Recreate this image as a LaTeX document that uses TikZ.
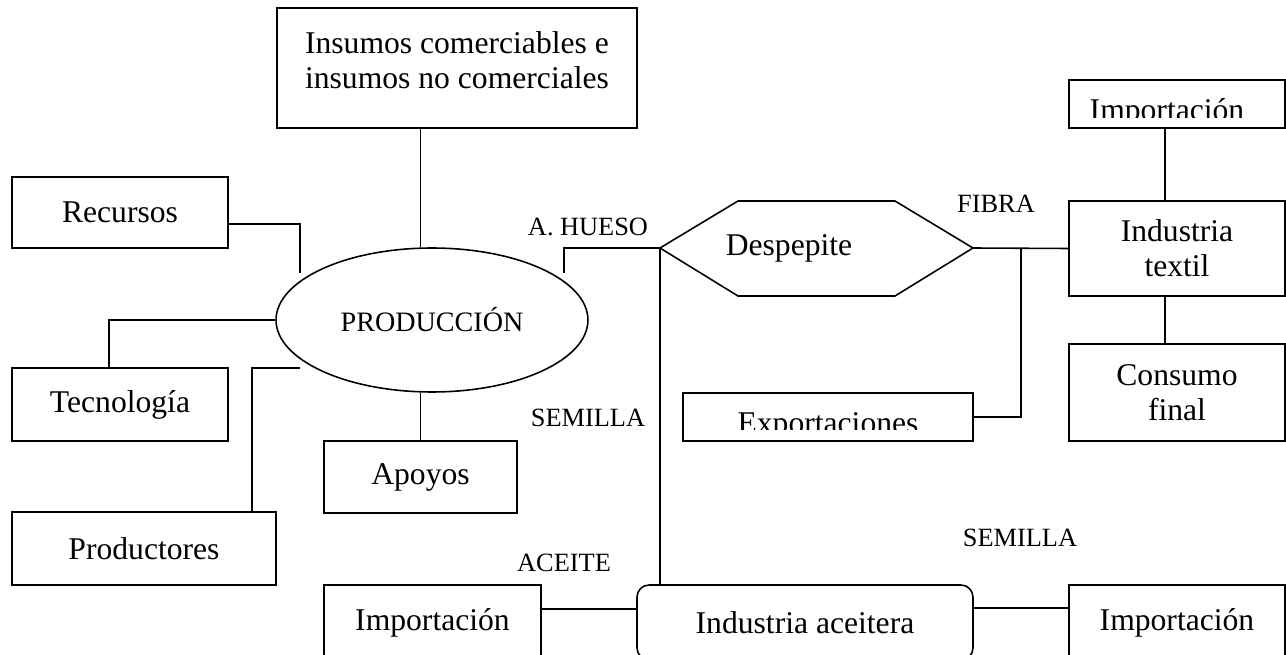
\documentclass[tikz,border=0pt]{standalone}
\usepackage{fontspec}
\setmainfont{Liberation Serif}
\usepackage{tikz}
\usetikzlibrary{shapes.geometric}

\newcommand{\cajafont}{\fontsize{18}{20}\selectfont}
\newcommand{\etiqfont}{\fontsize{15}{17}\selectfont}
\tikzset{
    caja/.style={draw, rectangle, line width=0.9pt, inner sep=0pt, font=\cajafont, align=center},
    etiq/.style={font=\etiqfont, inner sep=0pt},
    linea/.style={line width=0.9pt}
}

\begin{document}
\begin{tikzpicture}[x=0.02cm, y=-0.02cm]
    \clip (0,0) rectangle (1286,655);

    % 左侧: 生产
    \node[draw, ellipse, line width=0.9pt, inner sep=0pt, minimum width=6.24cm, minimum height=2.88cm, font=\fontsize{16}{18}\selectfont] (prod) at (432,320) {PRODUCCIÓN};
    \node[caja, minimum width=7.2cm, minimum height=2.4cm] (insumos) at (457,68) {};
    \node[font=\cajafont, align=center] (insumostxt) at ([yshift=0.16cm]insumos.center) {Insumos comerciables e\\insumos no comerciales};
    \node[caja, minimum width=4.32cm, minimum height=1.42cm] (recursos) at (120,212.5) {Recursos};
    \node[caja, minimum width=4.32cm, minimum height=1.46cm] (tecnologia) at (120,404.5) {Tecnología};
    \node[caja, minimum width=5.28cm, minimum height=1.46cm] (productores) at (144,548.5) {Productores};
    \node[caja, minimum width=3.86cm, minimum height=1.44cm] (apoyos) at (420.5,477) {Apoyos};

    \draw[linea] (insumos.south -| apoyos.north) -- (prod.north -| apoyos.north);
    \draw[linea] (prod.south -| apoyos.north) -- (apoyos.north);
    \coordinate (recEnd) at (300,273);
    \draw[linea] ([yshift=-0.23cm]recursos.east) -| (recEnd);
    \draw[linea] (prod.west) -| ([xshift=-0.22cm]tecnologia.north);
    \coordinate (prodEnd) at (300,368);
    \draw[linea] (prodEnd) -| ([xshift=2.16cm]productores.north);

    % 中间: 轧花
    \coordinate (hexL) at (660,248);
    \coordinate (hexR) at (973,248);
    \draw[linea] (hexL) -- (738,201) -- (895,201) -- (hexR) -- (895,296) -- (738,296) -- cycle;
    \node[font=\cajafont] (despepite) at (789,248) {Despepite};
    \coordinate (huesoEnd) at (564,273);
    \draw[linea] (huesoEnd) |- (hexL);

    \node[caja, rounded corners=0.24cm, minimum width=6.72cm, minimum height=1.5cm] (aceitera) at (805,622.5) {Industria aceitera};
    \node[caja, minimum width=4.34cm, minimum height=1.5cm] (importL) at (432.5,622.5) {Importación};
    \node[caja, minimum width=4.32cm, minimum height=1.5cm] (importR) at (1177,622.5) {Importación};
    \draw[linea] (hexL) -- (hexL |- aceitera.north);
    \draw[linea] ([yshift=0.27cm]importL.east) -- ([yshift=0.27cm]aceitera.west);
    \draw[linea] ([yshift=0.29cm]aceitera.east) -- ([yshift=0.29cm]importR.west);

    % 右侧: 纺织
    \node[caja, minimum width=4.32cm, minimum height=0.96cm] (importT) at (1177,104) {};
    \begin{scope}
        \clip (1069,80) rectangle (1285,118);
        \node[font=\cajafont, anchor=base] (importTtxt) at (1167,121) {Importación};
    \end{scope}
    \node[caja, minimum width=4.32cm, minimum height=1.9cm] (textil) at (1177,248.5) {Industria\\textil};
    \node[caja, minimum width=4.32cm, minimum height=1.94cm] (consumo) at (1177,392.5) {Consumo\\final};
    \node[caja, minimum width=5.8cm, minimum height=0.96cm] (export) at (828,417) {};
    \begin{scope}
        \clip (683,393) rectangle (973,430);
        \node[font=\cajafont, anchor=base] (exporttxt) at (828,434) {Exportaciones};
    \end{scope}

    \draw[linea] (hexR) -- (textil.west);
    \coordinate (fibraJ) at (1021,248);
    \draw[linea] (export.east) -| (fibraJ);
    \draw[linea] ([xshift=-0.24cm]importT.south) -- ([xshift=-0.24cm]textil.north);
    \draw[linea] ([xshift=-0.24cm]textil.south) -- ([xshift=-0.24cm]consumo.north);

    % 标签
    \node[etiq] (hueso) at (588,227) {A. HUESO};
    \node[etiq] (fibra) at (996,204) {FIBRA};
    \node[etiq] (semillaA) at (588,418) {SEMILLA};
    \node[etiq] (aceite) at (564,563) {ACEITE};
    \node[etiq] (semillaB) at (1020,538) {SEMILLA};
\end{tikzpicture}
\end{document}
